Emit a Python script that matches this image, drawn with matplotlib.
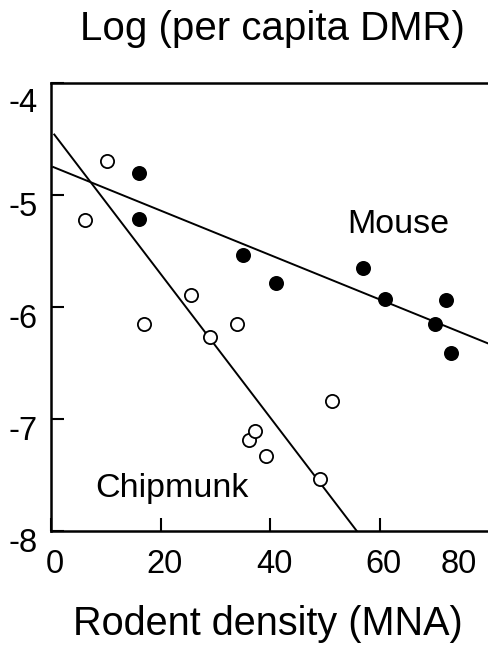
import matplotlib
matplotlib.use("Agg")
import matplotlib.pyplot as plt
from matplotlib.transforms import ScaledTranslation

plt.rcParams['font.family'] = ['Liberation Sans', 'DejaVu Sans']

# ------------------------------------------------------------
#  Datos
# ------------------------------------------------------------

# Chipmunk (circulos abiertos)
chip_x = [6.2, 10.2, 17.0, 25.5, 29.0, 34.0, 36.1, 37.2, 39.2, 49.1, 51.2]
chip_y = [-5.22, -4.70, -6.15, -5.89, -6.27, -6.15, -7.19, -7.11, -7.33, -7.54, -6.84]

# Mouse (circulos llenos)
mouse_x = [16.1, 16.1, 35.1, 41.0, 57.0, 60.9, 70.0, 72.0, 73.0]
mouse_y = [-4.80, -5.21, -5.54, -5.79, -5.65, -5.93, -6.15, -5.94, -6.41]

# Rectas de regresion (extremos)
chip_line_x = [0.6, 55.8]
chip_line_y = [-4.46, -8.0]
mouse_line_x = [0.4, 80.0]
mouse_line_y = [-4.75, -6.33]

x_ticks = [0, 20, 40, 60, 73.7]
x_ticklabels = ["0", "20", "40", "60", "80"]
y_ticks = [-8, -7, -6, -5, -4]
y_ticklabels = ["-8", "-7", "-6", "-5", "-4"]


def main():
    fig = plt.figure(figsize=(4.88, 6.51), dpi=100)
    ax = fig.add_axes([51 / 488, 1 - 531 / 651, 438.4 / 488, 448 / 651])

    # Lineas
    ax.plot(chip_line_x, chip_line_y, color="black", lw=1.4, zorder=2)
    ax.plot(mouse_line_x, mouse_line_y, color="black", lw=1.4, zorder=2)

    # Puntos
    ax.plot(chip_x, chip_y, "o", ms=9.5, mfc="white", mec="black", mew=1.3,
            zorder=3, clip_on=False)
    ax.plot(mouse_x, mouse_y, "o", ms=9.5, mfc="black", mec="black", mew=1.3,
            zorder=3, clip_on=False)

    ax.set_xlim(0, 80)
    ax.set_ylim(-8, -4)

    ax.spines["right"].set_visible(False)
    for s in ("left", "bottom", "top"):
        ax.spines[s].set_linewidth(1.8)

    ax.set_xticks(x_ticks)
    ax.set_xticklabels(x_ticklabels)
    ax.set_yticks(y_ticks)
    ax.set_yticklabels(y_ticklabels)
    ax.tick_params(direction="in", length=9.5, width=1.5, labelsize=23.5)
    ax.tick_params(axis="x", pad=13)
    ax.tick_params(axis="y", pad=9.5)
    # la etiqueta "80" no lleva marca
    ax.xaxis.get_major_ticks()[-1].tick1line.set_visible(False)

    # desplazamientos de etiquetas como en el original
    for lab in ax.get_xticklabels():
        lab.set_transform(lab.get_transform()
                          + ScaledTranslation(4 / 100, 0, fig.dpi_scale_trans))
    for lab in ax.get_yticklabels():
        dy = -17 if lab.get_text() == "-4" else -9
        lab.set_transform(lab.get_transform()
                          + ScaledTranslation(0, dy / 100, fig.dpi_scale_trans))

    # Textos
    ax.text(54.0, -5.34, "Mouse", fontsize=24.5, ha="left", va="baseline")
    ax.text(8.0, -7.70, "Chipmunk", fontsize=24.5, ha="left", va="baseline")

    fig.text(272 / 488, 1 - 40 / 651, "Log (per capita DMR)", fontsize=29,
             ha="center", va="baseline")
    fig.text(268 / 488, 1 - 635 / 651, "Rodent density (MNA)", fontsize=28.5,
             ha="center", va="baseline")

    fig.savefig("out.png", dpi=100)


if __name__ == "__main__":
    main()
